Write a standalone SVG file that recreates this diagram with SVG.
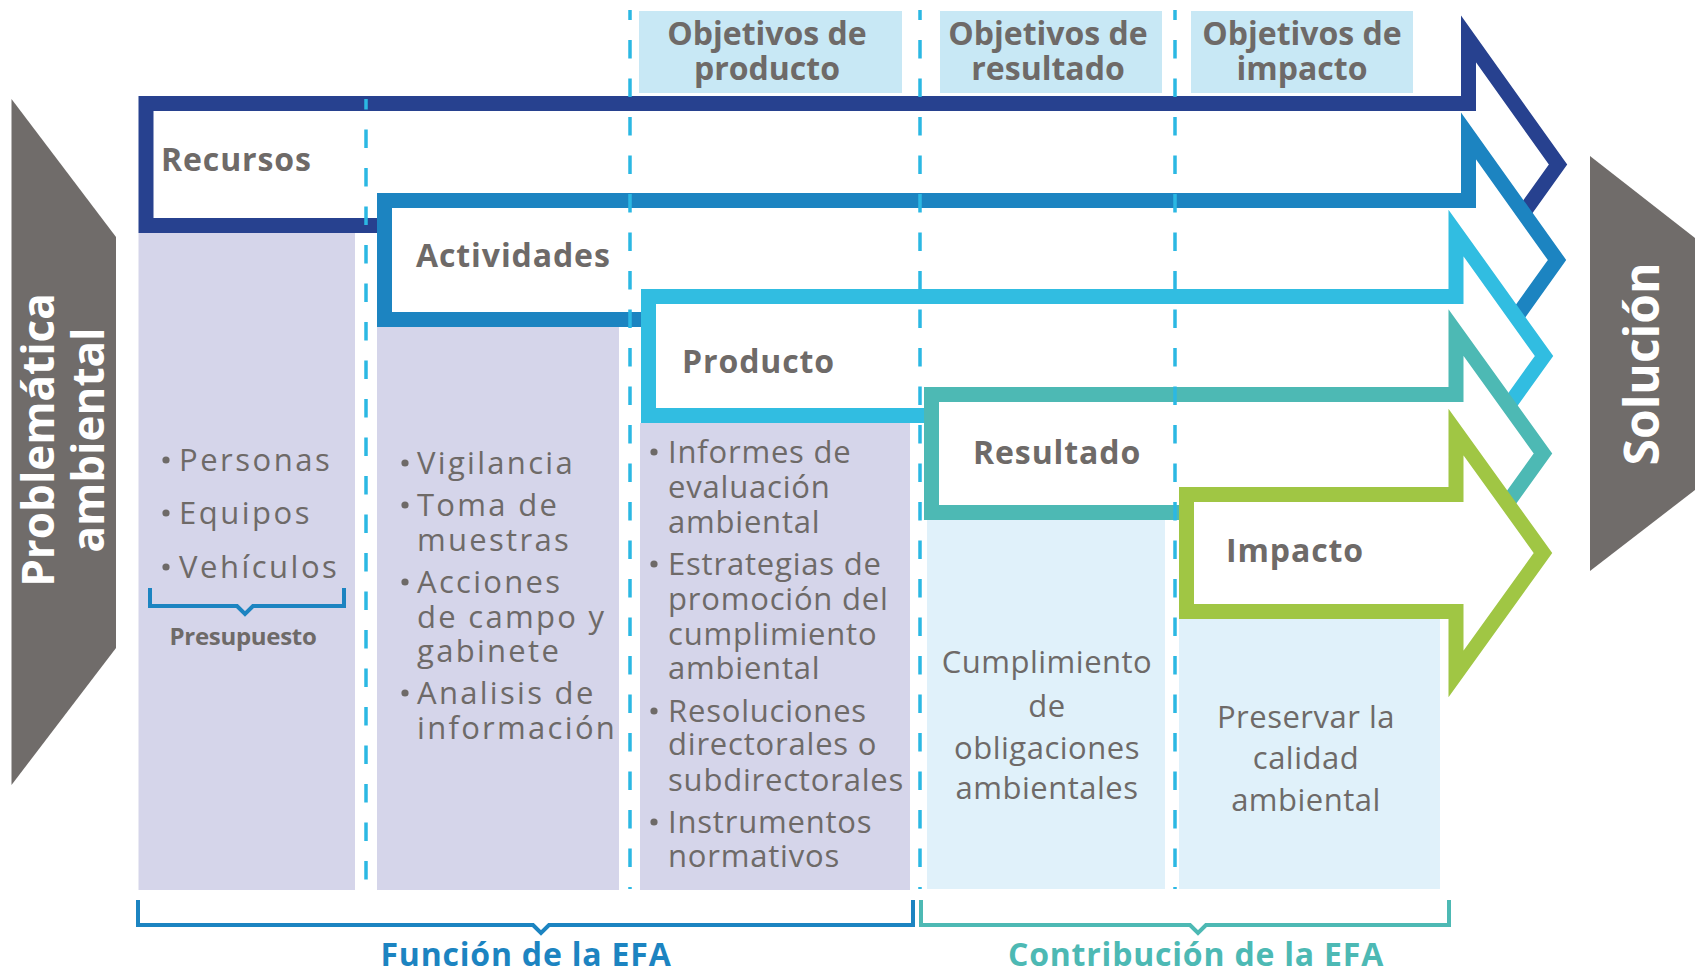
<svg xmlns="http://www.w3.org/2000/svg" width="1704" height="975" viewBox="0 0 1704 975">
<style>
.arrow{fill:#fff;stroke-width:15;stroke-linejoin:miter;stroke-miterlimit:10}
.lbl{font-family:"Open Sans","Liberation Sans",sans-serif;font-weight:700;font-size:32px;fill:#6E6A68;letter-spacing:0.9px}
.obj{font-family:"Open Sans","Liberation Sans",sans-serif;font-weight:700;font-size:32px;fill:#6E6A68;text-anchor:middle}
.txt{font-family:"Open Sans","Liberation Sans",sans-serif;font-weight:400;font-size:31px;fill:#6E6A68}
.c1{letter-spacing:2.5px}
.c2{letter-spacing:2.3px}
.c3{letter-spacing:0.8px}
.c4{letter-spacing:0.5px}
.ctr{text-anchor:middle}
.pres{font-family:"Open Sans","Liberation Sans",sans-serif;font-weight:700;font-size:24px;letter-spacing:-0.3px;fill:#6E6A68;text-anchor:middle}
.side{font-family:"Open Sans","Liberation Sans",sans-serif;font-weight:700;fill:#fff;text-anchor:middle}
.foot{font-family:"Open Sans","Liberation Sans",sans-serif;font-weight:700;font-size:32px;letter-spacing:0.8px;text-anchor:middle}
.dash{stroke:#2BB8E3;stroke-width:3.5;stroke-dasharray:18.5 20;fill:none}
.brk{fill:none;stroke-width:4}
.bul{fill:#6E6A68}
.lav{fill:#D5D5EA}
.lbl2{fill:#E0F1FA}
.objbox{fill:#C8E8F5}
.grey{fill:#706C6A}
</style>
<g id="problematica">
<polygon class="grey" points="11.5,99 116,237 116,648 11.5,785"/>
<text class="side" font-size="44" transform="translate(54,440) rotate(-90)">Problemática</text>
<text class="side" font-size="44" transform="translate(104,440) rotate(-90)">ambiental</text>
</g>
<g id="solucion">
<polygon class="grey" points="1590,156 1695,238 1695,490 1590,571"/>
<text class="side" font-size="48" transform="translate(1659,364) rotate(-90)">Solución</text>
</g>
<g id="objetivos-producto">
<rect class="objbox" x="639" y="11" width="263" height="82"/>
<text class="obj" x="767" y="45">Objetivos de</text>
<text class="obj" x="767" y="80">producto</text>
</g>
<g id="objetivos-resultado">
<rect class="objbox" x="940" y="11" width="222" height="82"/>
<text class="obj" x="1048" y="45">Objetivos de</text>
<text class="obj" x="1048" y="80">resultado</text>
</g>
<g id="objetivos-impacto">
<rect class="objbox" x="1191" y="11" width="222" height="82"/>
<text class="obj" x="1302" y="45">Objetivos de</text>
<text class="obj" x="1302" y="80">impacto</text>
</g>
<g id="col-recursos">
<rect class="lav" x="138.5" y="233" width="216.5" height="657"/>
<circle class="bul" cx="166" cy="460" r="3.6"/>
<circle class="bul" cx="166" cy="513" r="3.6"/>
<circle class="bul" cx="166" cy="567" r="3.6"/>
<text class="txt c1" x="179" y="471">Personas</text>
<text class="txt c1" x="179" y="524">Equipos</text>
<text class="txt c1" x="179" y="578">Vehículos</text>
<path class="brk" stroke="#1C84C1" stroke-width="3.5" d="M150,588 V606 H237 L245,614 L253,606 H344 V588"/>
<text class="pres" x="243" y="645">Presupuesto</text>
</g>
<g id="col-actividades">
<rect class="lav" x="377" y="327" width="242" height="563"/>
<circle class="bul" cx="405" cy="463" r="3.6"/>
<circle class="bul" cx="405" cy="505" r="3.6"/>
<circle class="bul" cx="405" cy="582" r="3.6"/>
<circle class="bul" cx="405" cy="693" r="3.6"/>
<text class="txt c2" x="417" y="474">Vigilancia</text>
<text class="txt c2" x="417" y="516">Toma de</text>
<text class="txt c2" x="417" y="551">muestras</text>
<text class="txt c2" x="417" y="593">Acciones</text>
<text class="txt c2" x="417" y="628">de campo y</text>
<text class="txt c2" x="417" y="662">gabinete</text>
<text class="txt c2" x="417" y="704">Analisis de</text>
<text class="txt c2" x="417" y="739">información</text>
</g>
<g id="col-producto">
<rect class="lav" x="640" y="423" width="270" height="467"/>
<circle class="bul" cx="654" cy="452" r="3.6"/>
<circle class="bul" cx="654" cy="564" r="3.6"/>
<circle class="bul" cx="654" cy="711" r="3.6"/>
<circle class="bul" cx="654" cy="822" r="3.6"/>
<text class="txt c3" x="668" y="463">Informes de</text>
<text class="txt c3" x="668" y="498">evaluación</text>
<text class="txt c3" x="668" y="533">ambiental</text>
<text class="txt c3" x="668" y="575">Estrategias de</text>
<text class="txt c3" x="668" y="610">promoción del</text>
<text class="txt c3" x="668" y="645">cumplimiento</text>
<text class="txt c3" x="668" y="679">ambiental</text>
<text class="txt c3" x="668" y="722">Resoluciones</text>
<text class="txt c3" x="668" y="755">directorales o</text>
<text class="txt c3" x="668" y="791">subdirectorales</text>
<text class="txt c3" x="668" y="833">Instrumentos</text>
<text class="txt c3" x="668" y="867">normativos</text>
</g>
<g id="col-resultado">
<rect class="lbl2" x="927" y="520" width="238" height="369"/>
<text class="txt ctr c4" x="1047" y="673">Cumplimiento</text>
<text class="txt ctr c4" x="1047" y="717">de</text>
<text class="txt ctr c4" x="1047" y="759">obligaciones</text>
<text class="txt ctr c4" x="1047" y="799">ambientales</text>
</g>
<g id="col-impacto">
<rect class="lbl2" x="1179" y="619" width="261" height="270"/>
<text class="txt ctr c4" x="1306" y="728">Preservar la</text>
<text class="txt ctr c4" x="1306" y="769">calidad</text>
<text class="txt ctr c4" x="1306" y="811">ambiental</text>
</g>
<g id="recursos">
<path class="arrow" stroke="#27418F" d="M146,103.5 H1468.5 V39 L1558,164.5 L1468.5,290 V225.5 H146 Z"/>
<text class="lbl" x="161" y="171">Recursos</text>
</g>
<g id="actividades">
<path class="arrow" stroke="#1C84C1" d="M384.5,200.5 H1468.5 V136 L1557,260 L1468.5,384 V319.5 H384.5 Z"/>
<text class="lbl" x="416" y="267">Actividades</text>
</g>
<g id="producto">
<path class="arrow" stroke="#31BDE1" d="M648.5,296.5 H1456 V233 L1544,356 L1456,479 V415.5 H648.5 Z"/>
<text class="lbl" x="682" y="373">Producto</text>
</g>
<g id="resultado">
<path class="arrow" stroke="#4DB9B4" d="M931.5,394.5 H1456 V332.5 L1543,453.5 L1456,574.5 V512.5 H931.5 Z"/>
<text class="lbl" x="973" y="464">Resultado</text>
</g>
<g id="impacto">
<path class="arrow" stroke="#A0C644" d="M1186.5,494.5 H1456 V432 L1543,553 L1456,674 V611.5 H1186.5 Z"/>
<text class="lbl" x="1226" y="562">Impacto</text>
</g>
<g id="connectors">
<line class="dash" x1="366" y1="99" x2="366" y2="889" stroke-dashoffset="8"/>
<line class="dash" x1="630" y1="10" x2="630" y2="889" stroke-dashoffset="8.5"/>
<line class="dash" x1="920" y1="10" x2="920" y2="889" stroke-dashoffset="8.5"/>
<line class="dash" x1="1175" y1="10" x2="1175" y2="889" stroke-dashoffset="8.5"/>
</g>
<g id="funcion">
<path class="brk" stroke="#1C84C1" d="M138,900 V925 H533 L541,933 L549,925 H913 V900"/>
<text class="foot" x="526" y="966" fill="#1C84C1">Función de la EFA</text>
</g>
<g id="contribucion">
<path class="brk" stroke="#4DB9B4" d="M921,900 V925 H1190 L1198,933 L1206,925 H1449 V900"/>
<text class="foot" x="1196" y="966" fill="#4DB9B4">Contribución de la EFA</text>
</g>
</svg>
